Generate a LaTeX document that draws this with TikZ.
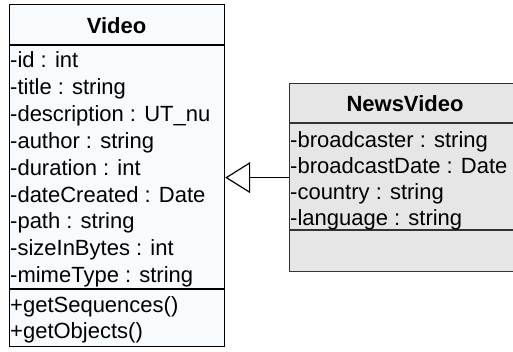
\documentclass[tikz,border=0pt]{standalone}
\usepackage{fontspec}
\setmainfont{Liberation Sans}
\usetikzlibrary{arrows.meta}
\definecolor{classfill}{HTML}{F8FBFE}
\definecolor{subfill}{HTML}{E6E6E6}
\definecolor{subline}{HTML}{333333}
\begin{document}
\begin{tikzpicture}[x=1pt,y=-1pt,
  member/.style={anchor=base west, inner sep=0pt, font=\fontsize{22}{26}\selectfont},
  classname/.style={anchor=base, inner sep=0pt, font=\fontsize{22}{26}\selectfont\bfseries},
  classbox/.style={draw, line width=1.2pt, inner sep=0pt, anchor=north west},
  sep/.style={line width=1.2pt},
  ]
\useasboundingbox (0,0) rectangle (513,351);
\clip (0,0) rectangle (513,351);

% class Video
\node[classbox, fill=classfill, minimum width=215pt, minimum height=342pt] (video) at (9,4) {};
\draw[sep] (9,45) -- (224,45);
\draw[sep] (9,289) -- (224,289);
\node[classname] (vname) at (116.5,33) {Video};
\node[member] (v1) at (10,67.5) {-id : int};
\node[member] (v2) at (10,94.5) {-title : string};
\node[member] (v3) at (10,121.5) {-description : UT\_nu};
\node[member] (v4) at (10,148.5) {-author : string};
\node[member] (v5) at (10,175.5) {-duration : int};
\node[member] (v6) at (10,202.5) {-dateCreated : Date};
\node[member] (v7) at (10,228.5) {-path : string};
\node[member] (v8) at (10,255.5) {-sizeInBytes : int};
\node[member] (v9) at (10,282.5) {-mimeType : string};
\node[member] (m1) at (10,312.5) {+getSequences()};
\node[member] (m2) at (10,338.5) {+getObjects()};

% class NewsVideo
\node[classbox, draw=subline, fill=subfill, minimum width=232pt, minimum height=188pt] (news) at (289,83) {};
\draw[sep, subline] (289,123) -- (521,123);
\draw[sep, subline] (289,230) -- (521,230);
\node[classname] (nname) at (405,111) {NewsVideo};
\node[member] (n1) at (290,147.5) {-broadcaster : string};
\node[member] (n2) at (290,173.5) {-broadcastDate : Date};
\node[member] (n3) at (290,199.5) {-country : string};
\node[member] (n4) at (290,225.5) {-language : string};

% generalization
\draw[line width=1.2pt, -{Triangle[open, length=25pt, width=31pt, fill=white]}]
  (news.west) -- (news.west -| video.east);
\end{tikzpicture}
\end{document}
